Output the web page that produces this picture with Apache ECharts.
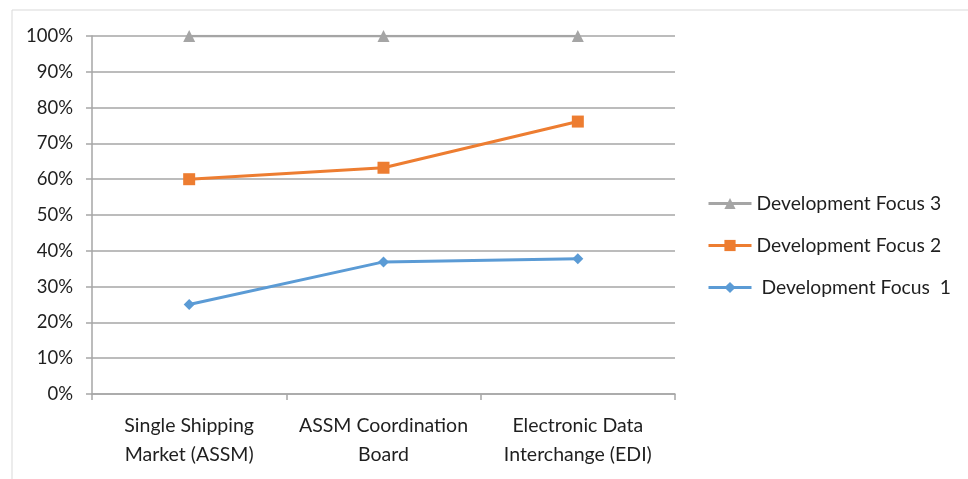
<!DOCTYPE html>
<html>
<head>
<meta charset="utf-8">
<script src="https://cdn.jsdelivr.net/npm/echarts@6/dist/echarts.min.js"></script>
<style>
  html, body { margin: 0; padding: 0; background: #ffffff; }
  #chart { width: 968px; height: 479px; }
</style>
</head>
<body>
<div id="chart"></div>
<script>
// Categories and series values (percent)
const categories = ['Single Shipping\nMarket (ASSM)', 'ASSM Coordination\nBoard', 'Electronic Data\nInterchange (EDI)'];
const focus1 = [25, 36.9, 37.8];
const focus2 = [60, 63.2, 76.1];
const focus3 = [100, 100, 100];
const seriesNames = ['Development Focus 3', 'Development Focus 2', ' Development Focus  1'];

const FONT = 'Lato, "Open Sans", sans-serif';
const TEXT = '#1f1f1f';
const AXIS = '#a6a6a6';

const chart = echarts.init(document.getElementById('chart'), null, { renderer: 'canvas' });

chart.setOption({
  animation: false,
  backgroundColor: '#ffffff',
  graphic: [{
    type: 'polyline',
    shape: { points: [[12, 479], [12, 10], [968, 10]] },
    style: { stroke: '#d9d9d9', lineWidth: 1, fill: null },
    silent: true
  }],
  grid: { left: 92, right: 293, top: 36, bottom: 85, containLabel: false },
  legend: {
    orient: 'vertical',
    left: 702,
    top: 189,
    itemWidth: 43,
    itemHeight: 14,
    itemGap: 23,
    data: seriesNames,
    lineStyle: { width: 3 },
    textStyle: { fontFamily: FONT, fontSize: 19.3, color: TEXT }
  },
  xAxis: {
    type: 'category',
    data: categories,
    boundaryGap: true,
    axisLine: { show: true, lineStyle: { color: AXIS, width: 1.5 } },
    axisTick: { show: true, length: 6, lineStyle: { color: AXIS, width: 1.5 } },
    axisLabel: { fontFamily: FONT, fontSize: 19.5, color: TEXT, lineHeight: 29, margin: 17, interval: 0 },
    splitLine: { show: false }
  },
  yAxis: {
    type: 'value',
    min: 0,
    max: 100,
    interval: 10,
    axisLine: { show: true, lineStyle: { color: AXIS, width: 1.5 } },
    axisTick: { show: true, length: 6, lineStyle: { color: AXIS, width: 1.5 } },
    axisLabel: { fontFamily: FONT, fontSize: 18.5, color: TEXT, margin: 19, formatter: '{value}%' },
    splitLine: { show: true, lineStyle: { color: AXIS, width: 1.5 } }
  },
  series: [
    {
      name: seriesNames[0], type: 'line', data: focus3,
      symbol: 'triangle', symbolSize: 12,
      lineStyle: { color: '#a5a5a5', width: 2.5 },
      itemStyle: { color: '#a5a5a5' }
    },
    {
      name: seriesNames[1], type: 'line', data: focus2,
      symbol: 'rect', symbolSize: 12,
      lineStyle: { color: '#ed7d31', width: 3 },
      itemStyle: { color: '#ed7d31' }
    },
    {
      name: seriesNames[2], type: 'line', data: focus1,
      symbol: 'diamond', symbolSize: 11,
      lineStyle: { color: '#5b9bd5', width: 3 },
      itemStyle: { color: '#5b9bd5' }
    }
  ]
});
</script>
</body>
</html>
